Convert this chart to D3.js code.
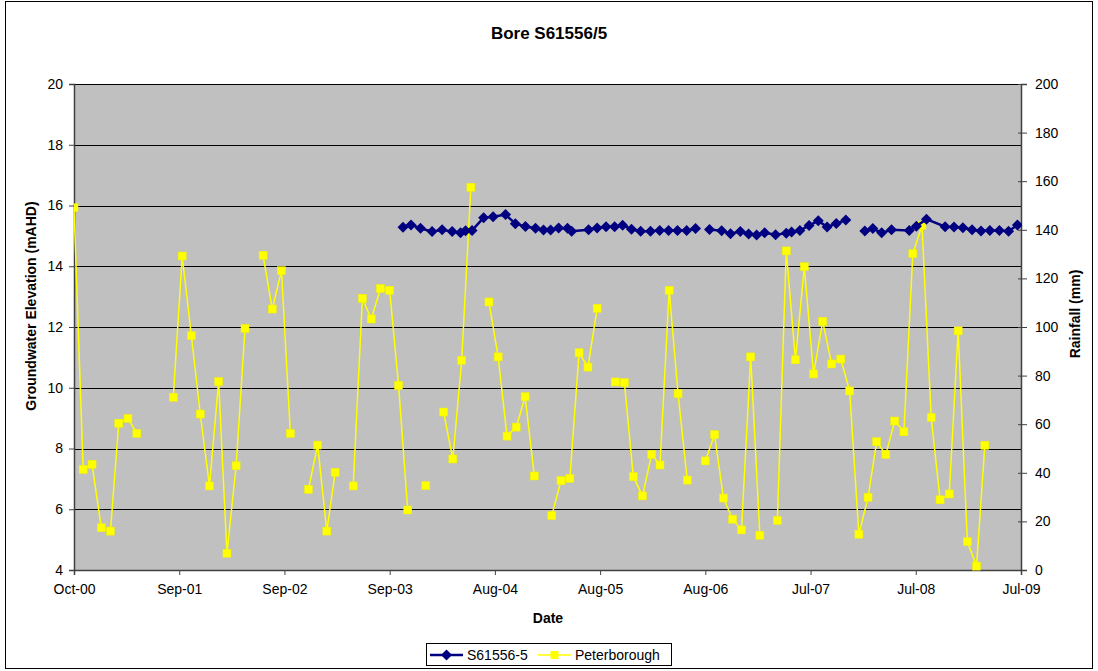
<!DOCTYPE html>
<html>
<head>
<meta charset="utf-8">
<script src="https://cdn.jsdelivr.net/npm/d3@7"></script>
<style>
  body { margin: 0; background: #fff; }
  svg text { font-family: Arial, "Liberation Sans", sans-serif; }
</style>
</head>
<body>
<script>
// Rainfall (Peterborough), monthly from Oct 2000, null = no record
var rainStart = "2000-10-01";
var rainfall = [
	149.1, 41.4, 43.5,
	17.4, 16.0, 60.4, 62.4, 56.2, null, null, null, 71.1, 129.2, 96.4, 64.2,
	34.6, 77.5, 6.9, 42.9, 99.4, null, 129.5, 107.4, 123.2, 56.2, null, 33.2,
	51.4, 16.0, 40.2, null, 34.6, 111.8, 103.3, 115.8, 115.1, 76.0, 24.7, null,
	34.7, null, 65.0, 45.7, 86.3, 157.5, null, 110.3, 87.7, 55.1, 58.8, 71.3,
	38.7, null, 22.4, 36.8, 37.7, 89.4, 83.5, 107.7, null, 77.4, 77.1, 38.4,
	30.5, 47.6, 43.2, 115.1, 72.6, 37.0, null, 44.9, 55.7, 29.6, 20.9, 16.5,
	87.7, 14.3, null, 20.4, 131.3, 86.5, 124.8, 80.7, 102.3, 84.8, 86.8, 73.7,
	14.7, 29.9, 52.8, 47.6, 61.3, 56.9, 130.2, 141.8, 62.8, 28.9, 31.3, 98.4,
	11.7, 1.6, 51.3
];

// Bore S61556-5 readings
var gwDates = [
	"2003-10-16", "2003-11-12", "2003-12-14", "2004-01-22", "2004-02-25", "2004-03-30",
	"2004-04-27", "2004-05-14", "2004-06-05", "2004-07-14", "2004-08-15", "2004-09-26",
	"2004-10-29", "2004-12-02", "2005-01-05", "2005-02-01", "2005-02-25", "2005-03-24",
	"2005-04-23", "2005-05-07", "2005-07-03", "2005-08-01", "2005-08-31", "2005-09-29",
	"2005-10-26", "2005-11-25", "2005-12-26", "2006-01-28", "2006-02-28", "2006-03-30",
	"2006-04-29", "2006-05-30", "2006-06-29", "2006-07-20",
	"2006-08-15", "2006-09-25", "2006-10-25", "2006-11-27", "2006-12-25", "2007-01-21",
	"2007-02-17", "2007-03-26", "2007-05-01", "2007-05-19", "2007-06-16", "2007-07-17",
	"2007-08-17", "2007-09-16", "2007-10-17", "2007-11-18", "2007-12-20",
	"2008-01-21", "2008-02-17", "2008-03-18", "2008-04-20", "2008-06-19", "2008-07-13",
	"2008-08-16", "2008-10-18", "2008-11-17", "2008-12-17", "2009-01-17", "2009-02-16",
	"2009-03-18", "2009-04-19", "2009-05-20", "2009-06-19"
];
var gwLevels = [
	15.28, 15.36, 15.25, 15.14, 15.20, 15.14,
	15.10, 15.17, 15.18, 15.60, 15.63, 15.70,
	15.40, 15.31, 15.25, 15.19, 15.19, 15.26,
	15.25, 15.15, 15.20, 15.26, 15.30, 15.30,
	15.35, 15.22, 15.15, 15.15, 15.18, 15.18,
	15.18, 15.18, 15.24, null,
	15.21, 15.17, 15.07, 15.14, 15.06, 15.03,
	15.10, 15.04, 15.09, 15.13, 15.18, 15.34,
	15.50, 15.29, 15.41, 15.52, null,
	15.16, 15.24, 15.10, 15.20, 15.18, 15.32,
	15.55, 15.30, 15.29, 15.27, 15.20, 15.16,
	15.18, 15.18, 15.15, 15.36
];

var xTickLabels = ["Oct-00", "Sep-01", "Sep-02", "Sep-03", "Aug-04", "Aug-05", "Aug-06", "Jul-07", "Jul-08", "Jul-09"];
var leftTicks = [4, 6, 8, 10, 12, 14, 16, 18, 20];
var rightTicks = [0, 20, 40, 60, 80, 100, 120, 140, 160, 180, 200];

var W = 1098, H = 671;
var pLeft = 74, pRight = 1021, pTop = 84, pBottom = 570;

var parse = d3.timeParse("%Y-%m-%d");
var start = parse("2000-10-01");
var end = parse("2009-07-01");
// Excel date axis: major unit 355 days
var tickDates = xTickLabels.map(function (d, i) { return d3.timeDay.offset(start, i * 355); });

var rainData = rainfall.map(function (v, i) {
	return { date: d3.timeMonth.offset(parse(rainStart), i), value: v };
});
var gwData = gwDates.map(function (d, i) { return { date: parse(d), value: gwLevels[i] }; });

var svg = d3.select("body").append("svg")
	.attr("width", W)
	.attr("height", H);

svg.append("rect")
	.attr("x", 5.5).attr("y", 1.5)
	.attr("width", 1087).attr("height", 667)
	.attr("fill", "#fff")
	.attr("stroke", "#000");

var x = d3.scaleTime().domain([start, end]).range([pLeft, pRight]);
var yL = d3.scaleLinear().domain([4, 20]).range([pBottom, pTop]);
var yR = d3.scaleLinear().domain([0, 200]).range([pBottom, pTop]);

// plot area
svg.append("rect")
	.attr("x", pLeft).attr("y", pTop)
	.attr("width", pRight - pLeft).attr("height", pBottom - pTop)
	.attr("fill", "#C0C0C0");

svg.selectAll(".grid")
	.data(leftTicks.slice(1))
	.enter().append("line")
	.attr("class", "grid")
	.attr("x1", pLeft).attr("x2", pRight)
	.attr("y1", function (d) { return Math.round(yL(d)) + 0.5; })
	.attr("y2", function (d) { return Math.round(yL(d)) + 0.5; })
	.attr("stroke", "#000")
	.attr("stroke-width", 1);

svg.append("defs").append("clipPath").attr("id", "clip")
	.append("rect")
	.attr("x", pLeft).attr("y", pTop - 6)
	.attr("width", pRight - pLeft + 1).attr("height", pBottom - pTop + 12);

// axes
var xAxis = d3.axisBottom(x).tickValues(tickDates)
	.tickFormat(function (d, i) { return xTickLabels[i]; })
	.tickSize(5).tickPadding(9);
var yAxisL = d3.axisLeft(yL).tickValues(leftTicks).tickSize(5).tickPadding(6);
var yAxisR = d3.axisRight(yR).tickValues(rightTicks).tickSize(6).tickPadding(8);

function styleAxis(g) {
	g.select(".domain").attr("stroke", "#404040").attr("stroke-width", 1.5);
	g.selectAll(".tick line").attr("stroke", "#404040");
	g.selectAll(".tick text").attr("fill", "#000").style("font-size", "14px")
		.style("font-family", "Arial, 'Liberation Sans', sans-serif");
}

svg.append("g").attr("transform", "translate(0," + pBottom + ")").call(xAxis).call(styleAxis);
svg.append("g").attr("transform", "translate(" + pLeft + ",0)").call(yAxisL).call(styleAxis);
svg.append("g").attr("transform", "translate(" + pRight + ",0)").call(yAxisR).call(styleAxis)
	.selectAll(".tick line").attr("x1", -3);

var plot = svg.append("g").attr("clip-path", "url(#clip)");

// rainfall line + squares
var rainLine = d3.line()
	.defined(function (d) { return d.value !== null; })
	.x(function (d) { return x(d.date); })
	.y(function (d) { return yR(d.value); });

plot.append("path")
	.datum(rainData)
	.attr("d", rainLine)
	.attr("fill", "none")
	.attr("stroke", "#FFFF00")
	.attr("stroke-width", 1.5);

plot.selectAll(".rain")
	.data(rainData.filter(function (d) { return d.value !== null; }))
	.enter().append("rect")
	.attr("class", "rain")
	.attr("x", function (d) { return x(d.date) - 4; })
	.attr("y", function (d) { return yR(d.value) - 4; })
	.attr("width", 8).attr("height", 8)
	.attr("fill", "#FFFF00")
	.attr("stroke", "#F0F000")
	.attr("stroke-width", 0.5);

// groundwater line + diamonds
var gwLine = d3.line()
	.defined(function (d) { return d.value !== null; })
	.x(function (d) { return x(d.date); })
	.y(function (d) { return yL(d.value); });

plot.append("path")
	.datum(gwData)
	.attr("d", gwLine)
	.attr("fill", "none")
	.attr("stroke", "#000080")
	.attr("stroke-width", 2.5);

var diamond = "M0,-5.5L5.5,0L0,5.5L-5.5,0Z";
plot.selectAll(".gw")
	.data(gwData.filter(function (d) { return d.value !== null; }))
	.enter().append("path")
	.attr("class", "gw")
	.attr("d", diamond)
	.attr("transform", function (d) { return "translate(" + x(d.date) + "," + yL(d.value) + ")"; })
	.attr("fill", "#000080");

// titles
svg.append("text")
	.attr("x", 549).attr("y", 39)
	.attr("text-anchor", "middle")
	.style("font-size", "17px").style("font-weight", "bold")
	.text("Bore S61556/5");

svg.append("text")
	.attr("x", 548).attr("y", 623)
	.attr("text-anchor", "middle")
	.style("font-size", "14px").style("font-weight", "bold")
	.text("Date");

svg.append("text")
	.attr("transform", "translate(36,306) rotate(-90)")
	.attr("text-anchor", "middle")
	.style("font-size", "14px").style("font-weight", "bold")
	.text("Groundwater Elevation (mAHD)");

svg.append("text")
	.attr("transform", "translate(1080,314) rotate(-90)")
	.attr("text-anchor", "middle")
	.style("font-size", "14px").style("font-weight", "bold")
	.text("Rainfall (mm)");

// legend
var legend = svg.append("g");
legend.append("rect")
	.attr("x", 426.5).attr("y", 643.5)
	.attr("width", 245).attr("height", 22)
	.attr("fill", "#fff").attr("stroke", "#000");

legend.append("line")
	.attr("x1", 430).attr("x2", 463).attr("y1", 655).attr("y2", 655)
	.attr("stroke", "#000080").attr("stroke-width", 2.5);
legend.append("path")
	.attr("d", diamond)
	.attr("transform", "translate(446.5,655)")
	.attr("fill", "#000080");
legend.append("text")
	.attr("x", 467).attr("y", 660)
	.style("font-size", "14px")
	.text("S61556-5");

legend.append("line")
	.attr("x1", 538).attr("x2", 571).attr("y1", 655).attr("y2", 655)
	.attr("stroke", "#FFFF00").attr("stroke-width", 1.5);
legend.append("rect")
	.attr("x", 550.5).attr("y", 651).attr("width", 8).attr("height", 8)
	.attr("fill", "#FFFF00");
legend.append("text")
	.attr("x", 575).attr("y", 660)
	.style("font-size", "14px")
	.text("Peterborough");
</script>
</body>
</html>
